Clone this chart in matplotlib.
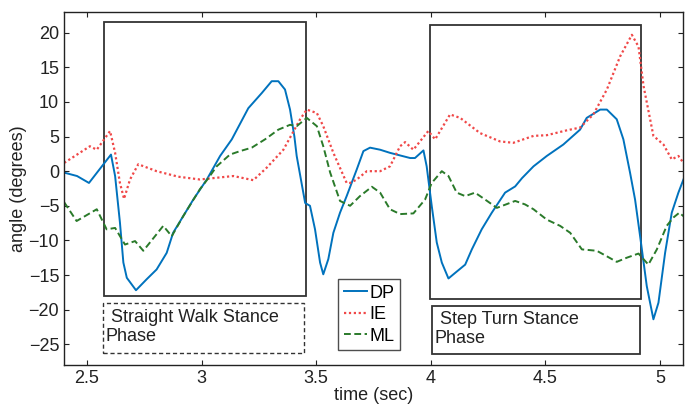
import matplotlib
matplotlib.use("Agg")
import matplotlib.pyplot as plt
from matplotlib.patches import Rectangle

plt.rcParams['font.family'] = ['Liberation Sans', 'DejaVu Sans']

# DP (dorsi/plantar flexion)
dp_t = [2.400, 2.457, 2.509, 2.605, 2.623, 2.644, 2.659, 2.674, 2.714, 2.761, 2.804, 2.848, 2.876,
        2.920, 2.964, 3.023, 3.081, 3.132, 3.204, 3.263, 3.306, 3.335, 3.364, 3.386, 3.405, 3.415,
        3.452, 3.473, 3.495, 3.517, 3.531, 3.553, 3.575, 3.604, 3.633, 3.677, 3.706, 3.735, 3.779,
        3.822, 3.910, 3.931, 3.968, 3.982, 4.004, 4.026, 4.048, 4.077, 4.106, 4.150, 4.179, 4.222,
        4.266, 4.324, 4.368, 4.398, 4.448, 4.506, 4.578, 4.651, 4.680, 4.739, 4.768, 4.811, 4.840,
        4.869, 4.891, 4.913, 4.942, 4.971, 4.993, 5.022, 5.051, 5.080, 5.102]
dp_v = [-0.2, -0.7, -1.7, 2.4, -0.7, -7.4, -13.2, -15.4, -17.2, -15.6, -14.2, -11.8, -8.9,
        -6.5, -4.1, -1.2, 2.2, 4.6, 9.1, 11.3, 13.0, 13.0, 11.8, 8.9, 5.0, 2.2,
        -4.6, -5.0, -8.4, -13.2, -14.9, -12.7, -8.9, -6.0, -3.6, 0.25, 2.9, 3.4, 3.1,
        2.65, 1.9, 1.9, 3.0, 0.7, -5.0, -10.3, -13.2, -15.5, -14.7, -13.5, -11.3, -8.4,
        -6.0, -3.1, -2.2, -1.0, 0.7, 2.2, 3.85, 6.0, 7.7, 8.9, 8.9, 7.5, 4.6,
        -0.2, -4.1, -9.4, -16.6, -21.4, -19.0, -11.8, -6.0, -3.1, -1.2]

# IE (inversion/eversion)
ie_t = [2.401, 2.513, 2.543, 2.601, 2.623, 2.644, 2.662, 2.688, 2.724, 2.804, 2.899, 2.993, 3.139,
        3.226, 3.284, 3.357, 3.430, 3.459, 3.503, 3.531, 3.575, 3.633, 3.648, 3.677, 3.721, 3.779,
        3.822, 3.866, 3.888, 3.924, 3.989, 4.019, 4.084, 4.128, 4.215, 4.302, 4.360, 4.448, 4.506,
        4.593, 4.651, 4.709, 4.768, 4.826, 4.877, 4.906, 4.928, 4.971, 5.015, 5.051, 5.080, 5.102]
ie_v = [1.2, 3.6, 3.1, 5.8, 2.65, -1.7, -4.0, -1.2, 1.0, 0.0, -0.8, -1.2, -0.7,
        -1.3, 0.5, 3.1, 7.5, 8.9, 8.4, 6.5, 2.65, -1.7, -1.7, -1.2, 0.0, 0.0,
        0.7, 3.6, 4.2, 3.1, 5.8, 4.6, 8.2, 7.7, 5.5, 4.3, 4.1, 5.1, 5.2,
        5.9, 6.3, 8.2, 11.8, 16.6, 19.7, 18.0, 12.3, 5.1, 3.85, 1.7, 2.2, 1.2]

# ML (medial/lateral)
ml_t = [2.401, 2.455, 2.543, 2.586, 2.623, 2.666, 2.710, 2.746, 2.833, 2.870, 2.920, 2.993, 3.030,
        3.066, 3.124, 3.168, 3.219, 3.277, 3.335, 3.386, 3.415, 3.459, 3.503, 3.531, 3.561, 3.604,
        3.648, 3.691, 3.743, 3.779, 3.822, 3.866, 3.924, 3.975, 4.004, 4.048, 4.077, 4.113, 4.150,
        4.193, 4.237, 4.288, 4.368, 4.411, 4.448, 4.506, 4.564, 4.608, 4.659, 4.724, 4.768, 4.811,
        4.855, 4.906, 4.949, 4.986, 5.029, 5.058, 5.084, 5.102]
ml_v = [-4.5, -7.2, -5.5, -8.4, -8.2, -10.6, -10.1, -11.5, -7.9, -9.4, -6.5, -2.6, -1.0,
        0.7, 2.4, 2.9, 3.4, 4.6, 6.0, 6.7, 6.5, 7.7, 6.5, 3.6, -0.2, -4.3,
        -5.0, -3.6, -2.25, -3.1, -5.5, -6.2, -6.1, -4.1, -1.7, 0.0, -0.7, -3.1, -3.6,
        -3.1, -4.1, -5.3, -4.3, -4.8, -5.5, -7.0, -7.9, -8.9, -11.3, -11.5, -12.3, -13.1,
        -12.5, -11.9, -13.5, -11.3, -7.9, -6.7, -6.0, -6.5]

x_ticks = [2.5, 3, 3.5, 4, 4.5, 5]
x_tick_labels = ['2.5', '3', '3.5', '4', '4.5', '5']
y_ticks = [-25, -20, -15, -10, -5, 0, 5, 10, 15, 20]
series_labels = ['DP', 'IE', 'ML']
phase_labels = [' Straight Walk Stance\nPhase', ' Step Turn Stance\nPhase']

FS = 13
TXT = '#222222'
fig = plt.figure(figsize=(6.91, 4.05), dpi=100)
ax = fig.add_axes([0.0926, 0.0988, 0.8958, 0.8716])

ax.plot(dp_t, dp_v, color='#0072BD', lw=1.4, ls='-', label=series_labels[0])
ax.plot(ie_t, ie_v, color='#F04848', lw=1.6, ls=(0, (1, 1.2)), label=series_labels[1])
ax.plot(ml_t, ml_v, color='#2A7A2A', lw=1.4, ls=(0, (3.5, 1.8)), label=series_labels[2])

ax.set_xlim(2.4, 5.1)
ax.set_ylim(-28, 23)
ax.set_xticks(x_ticks)
ax.set_xticklabels(x_tick_labels)
ax.set_yticks(y_ticks)
ax.tick_params(direction='in', top=True, right=True, length=3.5, width=0.8,
               labelsize=FS, pad=3.5, colors=TXT)
for s in ax.spines.values():
    s.set_color(TXT)
    s.set_linewidth(1.0)

ax.set_xlabel('time (sec)', fontsize=FS, labelpad=0, color=TXT)
ax.set_ylabel('angle (degrees)', fontsize=FS, labelpad=1, color=TXT)

# stance phase boxes
ax.add_patch(Rectangle((2.575, -18.1), 0.881, 39.7, fill=False, ec='#333333', lw=1.3, zorder=1))
ax.add_patch(Rectangle((3.997, -18.5), 0.920, 39.6, fill=False, ec='#333333', lw=1.3, zorder=1))
# label boxes
ax.add_patch(Rectangle((2.570, -26.2), 0.877, 7.1, fill=False, ec='#333333', lw=1.0,
                       ls=(0, (3, 2)), zorder=3))
ax.add_patch(Rectangle((4.004, -26.4), 0.909, 6.9, fill=False, ec='#333333', lw=1.3, zorder=3))
ax.text(2.583, -22.5, phase_labels[0], fontsize=FS, va='center', ha='left',
        linespacing=1.15, color=TXT)
ax.text(4.018, -22.8, phase_labels[1], fontsize=FS, va='center', ha='left',
        linespacing=1.15, color=TXT)

leg = ax.legend(loc='lower left', bbox_to_anchor=(0.443, 0.042), fontsize=FS,
                frameon=True, fancybox=False, edgecolor=TXT, handlelength=1.3,
                handletextpad=0.15, borderpad=0.3, labelspacing=0.25, borderaxespad=0)
leg.get_frame().set_linewidth(1.0)

fig.savefig('out.png', dpi=100)
